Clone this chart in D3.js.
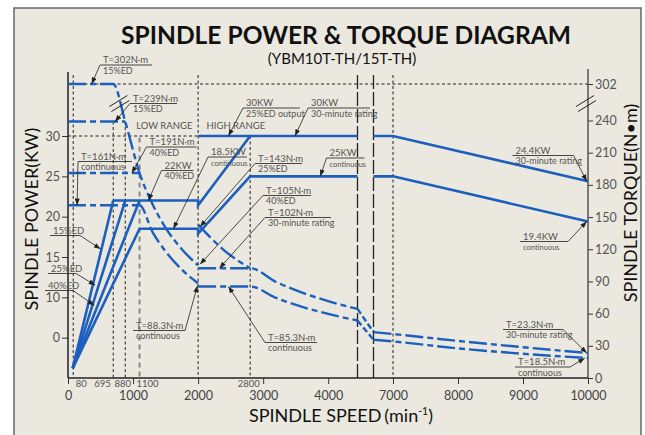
<!DOCTYPE html>
<html>
<head>
<meta charset="utf-8">
<script src="https://cdn.jsdelivr.net/npm/d3@7"></script>
<style>
  body { margin: 0; background: #fff; }
  text { font-family: Lato, "Open Sans", sans-serif; }
</style>
</head>
<body>
<script>
// ---- data ----
const speedTicks = [0, 1000, 2000, 3000, 4000, 7000, 8000, 9000, 10000];
const cornerSpeeds = [80, 695, 880, 1100, 2800];
const powerTickValues = [5, 10, 15, 20, 25, 30];
const powerTickLabels = ["0", "10", "15", "20", "25", "30"];
const torqueTicks = [0, 30, 60, 90, 120, 150, 180, 210, 240, 302];

// power curves [speed min-1, kW]
const pow15 = [[72, 1.2], [695, 22]];
const pow25 = [[72, 1.2], [880, 22]];
const pow40 = [[72, 1.2], [1100, 22]];
const pow22 = [[695, 22], [2000, 22], [2000, 21.4], [2800, 30]];
const powCont = [[72, 1.2], [1100, 18.5], [2000, 18.5], [2000, 17.9], [2800, 25], [4450, 25]];
const pow30 = [[2000, 30], [4450, 30]];
const pow30Far = [[6700, 30], [7000, 30], [10000, 24.4]];
const pow25Far = [[6700, 25], [7000, 25], [10000, 19.4]];

// torque curves [speed min-1, N·m]
const tq15 = [[0, 302], [695, 302], [880, 239], [1100, 191], [1300, 162], [1500, 140], [1750, 120], [2000, 105]];
const tq25 = [[0, 239], [880, 239]];
const tq40 = [[0, 191], [1100, 191]];
const tqCont = [[0, 161], [1100, 161], [1300, 136], [1500, 118], [1750, 101], [2000, 88.3]];
const tq143 = [[2000, 143], [2400, 119], [2800, 102.3]];
const tqHi30 = [[2000, 102.3], [2800, 102.3], [3200, 89.5], [3600, 79.6], [4000, 71.6], [4450, 64.4]];
const tqHiCont = [[2000, 85.3], [2800, 85.3], [3200, 74.6], [3600, 66.3], [4000, 59.7], [4450, 53.6]];
const tqGap30 = [[4450, 64.4], [6700, 42.8]];
const tqGapCont = [[4450, 53.6], [6700, 35.6]];
const tqFar30 = [[6700, 42.8], [7000, 41], [8000, 34.6], [9000, 28.7], [10000, 23.3]];
const tqFarCont = [[6700, 35.6], [7000, 34.1], [8000, 27.6], [9000, 22.6], [10000, 18.5]];

// reference levels
const ref302 = [[0, 302], [10000, 302]];
const ref30kw = [[0, 30], [2000, 30]];

// annotations: text, target (speed, value) and which scale the value is on
const annotations = [
  { lines: ["T=302N·m", "15%ED"], x: 100, y: 63, w: 52, from: "L", at: [363, 302], on: "T" },
  { lines: ["T=239N·m", "15%ED"], x: 130, y: 101.5, w: 47, from: "L", at: [723, 239], on: "T" },
  { lines: ["T=161N·m", "continuous"], x: 78, y: 159.5, w: 54, from: "L", at: [140, 161], on: "T" },
  { lines: ["T=191N·m", "40%ED"], x: 146.5, y: 145, w: 50, from: "L", at: [980, 191], on: "T" },
  { lines: ["22KW", "40%ED"], x: 161.5, y: 168.5, w: 32, from: "L", at: [1235, 22], on: "P" },
  { lines: ["18.5KW", "continuous"], x: 208, y: 155, w: 39, from: "L", at: [1620, 18.5], on: "P", small: true },
  { lines: ["30KW", "25%ED output"], x: 243, y: 106, w: 57, from: "L", at: [2466, 30], on: "P" },
  { lines: ["30KW", "30-minute rating"], x: 308, y: 106, w: 62, from: "L", at: [3489, 30], on: "P" },
  { lines: ["T=143N·m", "25%ED"], x: 255, y: 161.5, w: 47, from: "L", at: [2030, 141], on: "T" },
  { lines: ["25KW", "continuous"], x: 326.5, y: 156, w: 38, from: "L", at: [3877, 25], on: "P", small: true },
  { lines: ["T=105N·m", "40%ED"], x: 263, y: 193.5, w: 48, from: "L", at: [2030, 106], on: "T" },
  { lines: ["T=102N·m", "30-minute rating"], x: 265, y: 215.5, w: 66, from: "L", at: [2328, 102.3], on: "T" },
  { lines: ["T=88.3N·m", "continuous"], x: 133, y: 328.5, w: 52, from: "R", at: [1990, 86], on: "T" },
  { lines: ["T=85.3N·m", "continuous"], x: 265, y: 340.5, w: 52, from: "L", at: [2466, 85.3], on: "T" },
  { lines: ["24.4KW", "30-minute rating"], x: 512.5, y: 153.5, w: 61, from: "R", at: [9980, 24.4], on: "P" },
  { lines: ["19.4KW", "continuous"], x: 520, y: 239.5, w: 48, from: "R", at: [9980, 19.4], on: "P", small: true },
  { lines: ["T=23.3N·m", "30-minute rating"], x: 503, y: 327.5, w: 60, from: "R", at: [9980, 23.3], on: "T" },
  { lines: ["T=18.5N·m", "continuous"], x: 515, y: 365, w: 55, from: "R", at: [9950, 18.5], on: "T" },
  { lines: ["15%ED"], x: 50, y: 233.5, w: 30, from: "R", at: [500, 16], on: "P" },
  { lines: ["25%ED"], x: 48, y: 271.5, w: 28, from: "R", at: [420, 11.5], on: "P" },
  { lines: ["40%ED"], x: 45, y: 288.5, w: 28, from: "R", at: [405, 9], on: "P" }
];

// ---- drawing ----
const W = 645, H = 435;
const blue = "#1c5fbe";
const plotTop = 72, axisY = 378;

const svg = d3.select("body").append("svg").attr("width", W).attr("height", H);

svg.append("rect").attr("x", 14).attr("y", 8).attr("width", 627).attr("height", 440)
  .attr("fill", "#ebe8df").attr("stroke", "#666").attr("stroke-width", 1.5);

const x = d3.scaleLinear().domain([0, 4450, 6700, 10000]).range([68, 357.5, 373.5, 588]);
const yP = d3.scaleLinear().domain([0, 30]).range([axisY, 136]);
const yT = d3.scaleLinear().domain([0, 240, 302]).range([axisY, 120.5, 84]);

// vertical guide lines
const guides = [
  { s: 80, top: plotTop + 3, dash: "3,2.5", w: 1, c: "#222" },
  { s: 695, top: yT(239), dash: "3,2.5", w: 1, c: "#222" },
  { s: 880, top: yT(239), dash: "3,2.5", w: 1, c: "#222" },
  { s: 1100, top: yP(29.8), dash: "5,4", w: 2, c: "#888" },
  { s: 2000, top: plotTop + 3, dash: "3,2.5", w: 1, c: "#222" },
  { s: 2800, top: yP(30), dash: "3,2.5", w: 1, c: "#222" },
  { s: 4450, top: plotTop + 3, dash: "14,3", w: 1.3, c: "#222" },
  { s: 6700, top: plotTop + 3, dash: "14,3", w: 1.3, c: "#222" },
  { s: 7000, top: plotTop + 3, dash: "3,2.5", w: 1, c: "#222" }
];
svg.append("g").selectAll("line").data(guides).join("line")
  .attr("x1", d => x(d.s)).attr("x2", d => x(d.s))
  .attr("y1", d => d.top).attr("y2", axisY)
  .attr("stroke", d => d.c).attr("stroke-width", d => d.w).attr("stroke-dasharray", d => d.dash);

const lineP = d3.line().x(d => x(d[0])).y(d => yP(d[1]));
const lineT = d3.line().x(d => x(d[0])).y(d => yT(d[1])).curve(d3.curveMonotoneX);
const lineTL = d3.line().x(d => x(d[0])).y(d => yT(d[1]));

// black dashed reference levels
svg.append("path").attr("d", lineTL(ref302)).attr("fill", "none")
  .attr("stroke", "#222").attr("stroke-width", 1).attr("stroke-dasharray", "3,2.5");
svg.append("path").attr("d", lineP(ref30kw)).attr("fill", "none")
  .attr("stroke", "#222").attr("stroke-width", 1).attr("stroke-dasharray", "3,2.5");

// axes
const gx = svg.append("g").attr("transform", `translate(0,${axisY})`)
  .call(d3.axisBottom(x).tickValues(speedTicks).tickFormat(d3.format("d"))
    .tickSize(6).tickPadding(7).tickSizeOuter(0));
gx.select(".domain").remove();
gx.selectAll("text").attr("font-size", 12.5).attr("fill", "#444").attr("font-family", "Lato");
gx.selectAll("line").attr("stroke", "#333");

const minorDx = [8, -10.7, -2.5, 8, -1.3];
svg.append("g").selectAll("text").data(cornerSpeeds).join("text")
  .attr("x", (d, i) => x(d) + minorDx[i]).attr("y", axisY + 9)
  .attr("text-anchor", "middle").attr("font-size", 9.5).attr("fill", "#555").text(d => d);

const gl = svg.append("g").attr("transform", "translate(68,0)")
  .call(d3.axisLeft(yP).tickValues(powerTickValues).tickFormat((d, i) => powerTickLabels[i])
    .tickSize(6).tickPadding(2).tickSizeOuter(0));
gl.select(".domain").remove();
gl.selectAll("text").attr("font-size", 12.5).attr("fill", "#555").attr("font-family", "Lato");
gl.selectAll("line").attr("stroke", "#333");

const gr = svg.append("g").attr("transform", "translate(588,0)")
  .call(d3.axisRight(yT).tickValues(torqueTicks).tickSize(5).tickPadding(2).tickSizeOuter(0));
gr.select(".domain").remove();
gr.selectAll("text").attr("font-size", 12.5).attr("fill", "#555").attr("font-family", "Lato");
gr.selectAll("line").attr("stroke", "#333");

svg.append("line").attr("x1", 68).attr("x2", 68).attr("y1", plotTop).attr("y2", axisY)
  .attr("stroke", "#222").attr("stroke-width", 1.5);
svg.append("line").attr("x1", 588).attr("x2", 588).attr("y1", plotTop - 3).attr("y2", axisY)
  .attr("stroke", "#555").attr("stroke-width", 1.5);
svg.append("line").attr("x1", 68).attr("x2", 588).attr("y1", axisY).attr("y2", axisY)
  .attr("stroke", "#222").attr("stroke-width", 1.5);

// torque curves (dash-dot)
const torqueSeries = [tq15, tq25, tq40, tqCont, tq143, tqHi30, tqHiCont, tqFar30, tqFarCont];
svg.append("g").selectAll("path").data(torqueSeries).join("path")
  .attr("d", lineT).attr("fill", "none").attr("stroke", blue)
  .attr("stroke-width", 2.4).attr("stroke-dasharray", "18,4,6,4");
svg.append("g").selectAll("path").data([tqGap30, tqGapCont]).join("path")
  .attr("d", lineTL).attr("fill", "none").attr("stroke", blue)
  .attr("stroke-width", 2.4).attr("stroke-dasharray", "6,3");

// power curves (solid)
const powerSeries = [pow15, pow25, pow40, pow22, powCont, pow30, pow30Far, pow25Far];
svg.append("g").selectAll("path").data(powerSeries).join("path")
  .attr("d", lineP).attr("fill", "none").attr("stroke", blue)
  .attr("stroke-width", 2.6).attr("stroke-linejoin", "miter");

// axis-break marks
function breakMark(cx, cy) {
  [[0, -2.5], [2, 2.5]].forEach(o => {
    svg.append("line")
      .attr("x1", cx - 10 + o[0]).attr("y1", cy + 5 + o[1])
      .attr("x2", cx + 8 + o[0]).attr("y2", cy - 6 + o[1])
      .attr("stroke", "#222").attr("stroke-width", 1);
  });
}
breakMark(x(790), yT(268));
breakMark(x(10000) - 2, yT(268));

// annotations
svg.append("defs").append("marker").attr("id", "arr")
  .attr("viewBox", "0 0 8 6").attr("refX", 8).attr("refY", 3)
  .attr("markerWidth", 7).attr("markerHeight", 5)
  .attr("markerUnits", "userSpaceOnUse").attr("orient", "auto")
  .append("path").attr("d", "M0,0L8,3L0,6z").attr("fill", "#222");

annotations.forEach(a => {
  const g = svg.append("g");
  const ulY = a.y + 2;
  const sc = a.on === "T" ? yT : yP;
  const sx = a.from === "L" ? a.x : a.x + a.w;
  g.append("line").attr("x1", a.x).attr("x2", a.x + a.w).attr("y1", ulY).attr("y2", ulY)
    .attr("stroke", "#333").attr("stroke-width", 0.9);
  g.append("line").attr("x1", sx).attr("y1", ulY)
    .attr("x2", x(a.at[0])).attr("y2", sc(a.at[1]))
    .attr("stroke", "#222").attr("stroke-width", 0.8).attr("marker-end", "url(#arr)");
  a.lines.forEach((t, i) => {
    g.append("text").attr("x", a.x + 3).attr("y", a.y + i * 10.5)
      .attr("font-size", i ? (a.small ? 7.5 : 9) : 9.5)
      .attr("fill", "#555").text(t);
  });
});

svg.append("text").attr("x", x(1480)).attr("y", 129).attr("font-size", 9.5).attr("fill", "#555")
  .attr("text-anchor", "middle").text("LOW RANGE");
svg.append("text").attr("x", x(2130)).attr("y", 129).attr("font-size", 9.5).attr("fill", "#555")
  .text("HIGH RANGE");

// titles
svg.append("text").attr("x", 346).attr("y", 44).attr("text-anchor", "middle")
  .attr("font-size", 25).attr("font-weight", 700).attr("fill", "#111")
  .attr("textLength", 450).attr("lengthAdjust", "spacingAndGlyphs")
  .text("SPINDLE POWER & TORQUE DIAGRAM");
svg.append("text").attr("x", 342).attr("y", 64).attr("text-anchor", "middle")
  .attr("font-size", 15).attr("fill", "#111")
  .text("(YBM10T-TH/15T-TH)");

svg.append("text").attr("transform", "translate(31,219) rotate(-90)")
  .attr("text-anchor", "middle").attr("dominant-baseline", "central")
  .attr("font-size", 18).attr("fill", "#111").text("SPINDLE POWER(KW)");
svg.append("text").attr("transform", "translate(630,203) rotate(-90)")
  .attr("text-anchor", "middle").attr("dominant-baseline", "central")
  .attr("font-size", 18).attr("fill", "#111").text("SPINDLE TORQUE(N•m)");

const xt = svg.append("text").attr("x", 341).attr("y", 422).attr("text-anchor", "middle")
  .attr("font-size", 18).attr("fill", "#111");
xt.append("tspan").text("SPINDLE SPEED");
xt.append("tspan").attr("dx", 3).text("(min");
xt.append("tspan").attr("font-size", 10.5).attr("dy", -7).text("-1");
xt.append("tspan").attr("dy", 7).text(")");
</script>
</body>
</html>
